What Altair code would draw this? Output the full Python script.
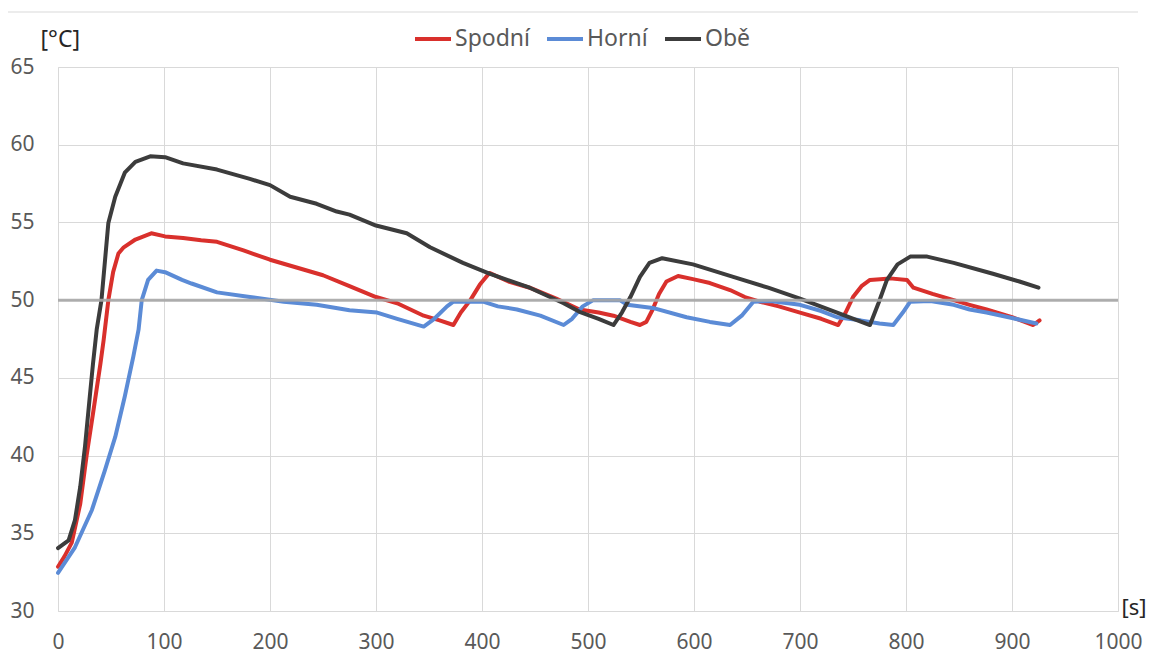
import altair as alt
import pandas as pd

# ---- data ----
series_names = ["Spodní", "Horní", "Obě"]
series_colors = ["#d9302c", "#5b8bd6", "#3c3c3c"]

t_spodni = [0, 6, 13, 21, 27, 33, 40, 43, 47.5, 52, 57, 62, 73, 88, 101, 118, 135, 150, 175, 200,
            225, 250, 275, 300, 320, 345, 360, 373, 380, 389, 398, 407, 425, 445, 470, 492, 510,
            524, 540, 549, 555, 561, 567, 574, 585, 599, 615, 634, 648, 662, 680, 700, 720, 736,
            743, 750, 758, 766, 785, 801, 807, 825, 845, 860, 876, 900, 920, 926]
v_spodni = [32.85, 33.5, 34.4, 36.9, 40.0, 42.7, 45.9, 47.4, 50.0, 51.8, 53.0, 53.4, 53.9, 54.3,
            54.1, 54.0, 53.85, 53.75, 53.2, 52.6, 52.1, 51.6, 50.9, 50.2, 49.8, 49.0, 48.7, 48.4,
            49.2, 50.0, 51.0, 51.75, 51.2, 50.8, 50.1, 49.4, 49.2, 49.0, 48.6, 48.4, 48.6, 49.4,
            50.4, 51.2, 51.55, 51.35, 51.1, 50.65, 50.2, 49.9, 49.6, 49.2, 48.8, 48.4, 49.2, 50.2,
            50.9, 51.3, 51.4, 51.3, 50.8, 50.4, 50.0, 49.7, 49.4, 48.9, 48.4, 48.7]

t_horni = [0, 16, 32, 44, 54, 63, 71, 76, 79, 85, 93, 101, 117, 126, 150, 181, 213, 244, 275, 301,
           320, 345, 355, 367, 373, 401, 415, 433, 455, 477, 485, 495, 505, 530, 537, 561, 593,
           615, 634, 645, 656, 672, 700, 720, 735, 757, 775, 788, 797, 804, 823, 845, 860, 876,
           900, 923]
v_horni = [32.45, 34.1, 36.5, 39.0, 41.2, 43.8, 46.35, 48.1, 50.0, 51.3, 51.9, 51.8, 51.3, 51.07,
           50.5, 50.2, 49.9, 49.7, 49.35, 49.2, 48.8, 48.3, 48.8, 49.6, 49.9, 49.9, 49.6, 49.4,
           49.0, 48.4, 48.8, 49.6, 50.0, 50.0, 49.7, 49.5, 48.9, 48.6, 48.4, 49.0, 49.9, 49.95,
           49.7, 49.3, 48.9, 48.7, 48.5, 48.4, 49.2, 49.9, 49.95, 49.7, 49.4, 49.2, 48.85, 48.5]

t_obe = [0, 10, 16, 21, 25.5, 30, 33, 36.5, 41, 47.5, 54, 63, 73, 87, 101, 118, 150, 181, 200,
         219, 244, 263, 275, 300, 329, 351, 382, 407, 445, 477, 492, 510, 524, 532, 540, 549, 558,
         570, 599, 637, 670, 700, 735, 766, 774, 782, 792, 804, 820, 845, 882, 907, 925]
v_obe = [34.05, 34.55, 35.85, 38.0, 40.6, 43.8, 45.9, 48.1, 50.0, 54.96, 56.65, 58.2, 58.9, 59.25,
         59.2, 58.8, 58.4, 57.8, 57.4, 56.65, 56.2, 55.7, 55.5, 54.8, 54.3, 53.4, 52.4, 51.7, 50.8,
         49.8, 49.25, 48.8, 48.4, 49.2, 50.2, 51.5, 52.4, 52.7, 52.3, 51.5, 50.8, 50.1, 49.2, 48.4,
         49.8, 51.3, 52.3, 52.8, 52.8, 52.4, 51.7, 51.2, 50.8]

reference_level = [50]

x_ticks = list(range(0, 1001, 100))
y_ticks = list(range(30, 66, 5))

rows = []
for name, ts, vs in zip(series_names, [t_spodni, t_horni, t_obe], [v_spodni, v_horni, v_obe]):
    for t, v in zip(ts, vs):
        rows.append({"t": t, "T": v, "serie": name})
df = pd.DataFrame(rows)

FONT = "Noto Sans"
LABEL_COLOR = "#595959"

x_enc = alt.X("t:Q", scale=alt.Scale(domain=[0, 1000], nice=False, zero=False),
              axis=alt.Axis(values=x_ticks, title="[s]", titleAngle=0, titleAlign="left",
                            titleBaseline="middle", titleX=1063, titleY=-4,
                            labelPadding=20, format="d", titleFontSize=22,
                            labelFlush=False, labelOverlap=False))
y_enc = alt.Y("T:Q", scale=alt.Scale(domain=[30, 65], nice=False, zero=False),
              axis=alt.Axis(values=y_ticks, title="[°C]", titleAngle=0, titleAlign="left",
                            titleBaseline="middle", titleX=-18, titleY=-28,
                            labelPadding=24, format="d", labelFlush=False))

lines = alt.Chart(df).mark_line(strokeWidth=4, strokeJoin="round", strokeCap="round").encode(
    x=x_enc,
    y=y_enc,
    color=alt.Color("serie:N",
                    scale=alt.Scale(domain=series_names, range=series_colors),
                    sort=series_names,
                    legend=alt.Legend(title=None, orient="none", direction="horizontal",
                                      legendX=355, legendY=-48, symbolType="stroke",
                                      symbolSize=1296, symbolStrokeWidth=4,
                                      labelFontSize=23, labelFont=FONT, labelColor=LABEL_COLOR,
                                      columnPadding=9, labelOffset=2)),
)

ref = alt.Chart(pd.DataFrame({"T": reference_level})).mark_rule(
    color="#a6a6a6", strokeWidth=3, opacity=0.9).encode(y=alt.Y("T:Q"))

border = alt.Chart(pd.DataFrame({"k": [0]})).mark_rule(color="#d9d9d9", strokeWidth=1).encode(
    x=alt.value(-50), x2=alt.value(1080), y=alt.value(-55))

chart = alt.layer(lines, ref, border).properties(
    width=1060, height=544,
    autosize=alt.AutoSizeParams(type="none"),
    padding={"left": 50, "top": 59, "right": 28, "bottom": 44},
).configure_view(stroke=None).configure_axis(
    grid=True, gridColor="#d9d9d9", gridWidth=1,
    domainColor="#d9d9d9", domainWidth=1, ticks=False,
    labelFont=FONT, labelFontSize=21, labelColor=LABEL_COLOR,
    titleFont=FONT, titleFontSize=23, titleColor="#262626", titleFontWeight="normal",
)

chart.save("out.html", embed_options={"renderer": "svg", "actions": False})
